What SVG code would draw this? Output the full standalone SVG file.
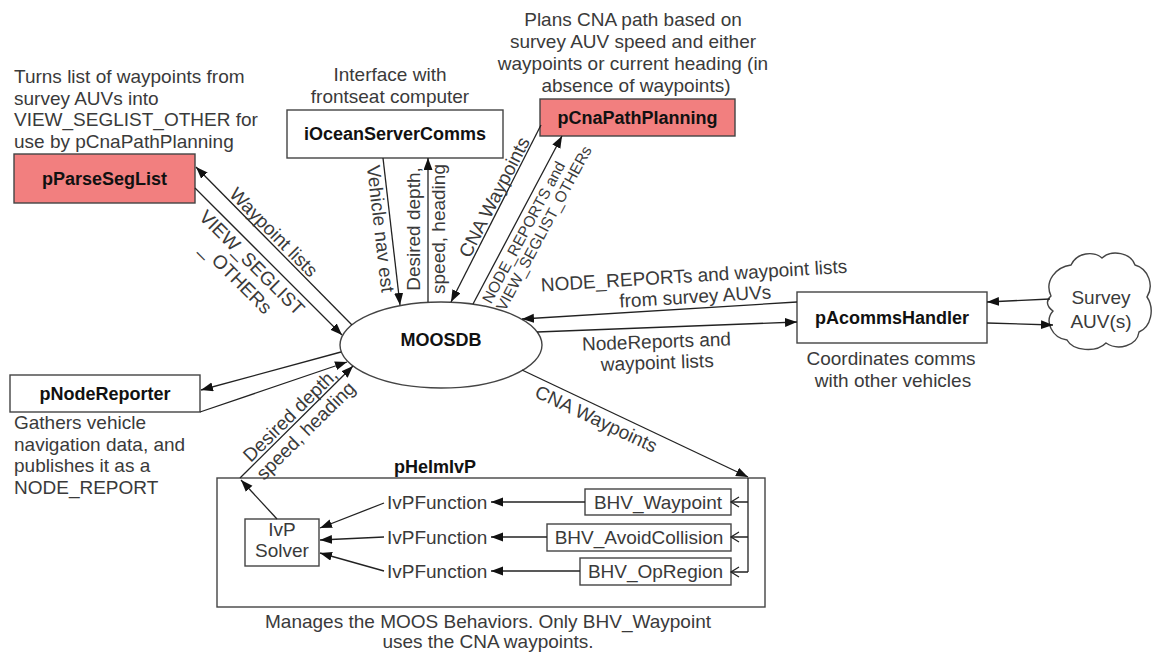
<svg xmlns="http://www.w3.org/2000/svg" width="1157" height="653" viewBox="0 0 1157 653">
  <defs>
    <style>
      .box { fill: #ffffff; stroke: #444444; stroke-width: 1.4; }
      .hot { fill: #f27f7f; }
      .frame { fill: none; stroke: #444444; stroke-width: 1.4; }
      .name { font-family: "Liberation Sans", Arial, sans-serif; font-size: 18px; font-weight: bold; fill: #111111; text-anchor: middle; }
      .note { font-family: "Liberation Sans", Arial, sans-serif; font-size: 19px; fill: #3a3a3a; }
      .small { font-size: 15.5px; }
      .mid { text-anchor: middle; }
      .wire { stroke: #222222; stroke-width: 1.3; fill: none; }
      .arr { marker-end: url(#head); }
    </style>
    <marker id="head" markerUnits="userSpaceOnUse" markerWidth="13" markerHeight="10" refX="12" refY="4.5" orient="auto">
      <path d="M0,0 L12,4.5 L0,9 Z" fill="#111111"/>
    </marker>
  </defs>
  <rect width="1157" height="653" fill="#ffffff"/>

  <!-- pParseSegList -->
  <g id="pParseSegList">
    <text class="note" x="14" y="83">Turns list of waypoints from</text>
    <text class="note" x="14" y="105">survey AUVs into</text>
    <text class="note" x="14" y="126">VIEW_SEGLIST_OTHER for</text>
    <text class="note" x="14" y="148">use by pCnaPathPlanning</text>
    <rect class="box hot" x="14" y="154" width="181" height="49"/>
    <text class="name" x="104.5" y="185">pParseSegList</text>
  </g>

  <!-- iOceanServerComms -->
  <g id="iOceanServerComms">
    <text class="note mid" x="390" y="81">Interface with</text>
    <text class="note mid" x="390" y="103">frontseat computer</text>
    <rect class="box" x="287" y="110" width="216" height="48"/>
    <text class="name" x="395" y="140">iOceanServerComms</text>
  </g>

  <!-- pCnaPathPlanning -->
  <g id="pCnaPathPlanning">
    <text class="note mid" x="633" y="26">Plans CNA path based on</text>
    <text class="note mid" x="633" y="48">survey AUV speed and either</text>
    <text class="note mid" x="633" y="70">waypoints or current heading (in</text>
    <text class="note mid" x="636" y="92">absence of waypoints)</text>
    <rect class="box hot" x="540" y="99" width="195" height="37"/>
    <text class="name" x="637.5" y="124">pCnaPathPlanning</text>
  </g>

  <!-- MOOSDB -->
  <g id="MOOSDB">
    <ellipse class="box" cx="441" cy="345" rx="101" ry="43"/>
    <text class="name" x="441" y="346">MOOSDB</text>
  </g>

  <!-- pAcommsHandler -->
  <g id="pAcommsHandler">
    <rect class="box" x="797" y="292" width="190" height="51"/>
    <text class="name" x="892" y="324">pAcommsHandler</text>
    <text class="note mid" x="891" y="365">Coordinates comms</text>
    <text class="note mid" x="893" y="387">with other vehicles</text>
  </g>

  <!-- Survey AUV(s) -->
  <g id="SurveyAUVs">
    <path class="box" d="M1051,296 C1044,281 1056,267 1071,265 C1077,252 1094,251 1102,258 C1112,249 1131,253 1135,265 C1149,269 1154,286 1147,297 C1155,309 1151,327 1139,332 C1137,346 1118,351 1106,343 C1096,353 1073,351 1067,340 C1052,338 1044,321 1053,311 C1046,306 1046,300 1051,296 Z"/>
    <text class="note mid" x="1101" y="304">Survey</text>
    <text class="note mid" x="1101" y="328">AUV(s)</text>
  </g>

  <!-- pNodeReporter -->
  <g id="pNodeReporter">
    <rect class="box" x="10" y="375" width="190" height="37"/>
    <text class="name" x="105" y="400">pNodeReporter</text>
    <text class="note" x="14" y="429">Gathers vehicle</text>
    <text class="note" x="14" y="451">navigation data, and</text>
    <text class="note" x="14" y="472">publishes it as a</text>
    <text class="note" x="14" y="494">NODE_REPORT</text>
  </g>

  <!-- pHelmIvP and its parts -->
  <g id="pHelmIvP">
    <text class="name" x="435" y="473">pHelmIvP</text>
    <rect class="frame" x="217" y="478" width="548" height="129"/>
    <text class="note mid" x="488" y="628">Manages the MOOS Behaviors. Only BHV_Waypoint</text>
    <text class="note mid" x="488" y="648">uses the CNA waypoints.</text>
  </g>
  <g id="IvPSolver">
    <rect class="box" x="245" y="519" width="74" height="47"/>
    <text class="note mid" x="282" y="536">IvP</text>
    <text class="note mid" x="282" y="557">Solver</text>
  </g>
  <g id="IvPFunctions">
    <text class="note" x="387" y="509">IvPFunction</text>
    <text class="note" x="387" y="544">IvPFunction</text>
    <text class="note" x="387" y="578">IvPFunction</text>
  </g>
  <g id="BHV_Waypoint">
    <rect class="box" x="585" y="489" width="146" height="26"/>
    <text class="note mid" x="658" y="509">BHV_Waypoint</text>
  </g>
  <g id="BHV_AvoidCollision">
    <rect class="box" x="547" y="524" width="184" height="27"/>
    <text class="note mid" x="639" y="544">BHV_AvoidCollision</text>
  </g>
  <g id="BHV_OpRegion">
    <rect class="box" x="580" y="558" width="151" height="27"/>
    <text class="note mid" x="655.5" y="578">BHV_OpRegion</text>
  </g>

  <!-- connectors -->
  <g id="connectors">
    <!-- pParseSegList <-> MOOSDB -->
    <line class="wire arr" x1="352" y1="325" x2="196" y2="167"/>
    <line class="wire arr" x1="195" y1="188" x2="342" y2="335"/>
    <!-- iOceanServerComms <-> MOOSDB -->
    <line class="wire arr" x1="383" y1="158" x2="400" y2="305"/>
    <line class="wire arr" x1="428" y1="302" x2="428" y2="158"/>
    <!-- pCnaPathPlanning <-> MOOSDB -->
    <line class="wire arr" x1="541" y1="125" x2="451" y2="302"/>
    <line class="wire arr" x1="473" y1="304" x2="562" y2="136"/>
    <!-- pAcommsHandler <-> MOOSDB -->
    <line class="wire arr" x1="797" y1="302" x2="522" y2="319"/>
    <line class="wire arr" x1="537" y1="332" x2="797" y2="322"/>
    <!-- Survey AUV(s) <-> pAcommsHandler -->
    <line class="wire arr" x1="1050" y1="299" x2="987" y2="302"/>
    <line class="wire arr" x1="987" y1="323" x2="1053" y2="325"/>
    <!-- pNodeReporter <-> MOOSDB -->
    <line class="wire arr" x1="341" y1="352" x2="201" y2="390"/>
    <line class="wire arr" x1="200" y1="412" x2="347" y2="362"/>
    <!-- pHelmIvP -> MOOSDB -->
    <line class="wire arr" x1="277" y1="519" x2="241" y2="480"/>
    <line class="wire arr" x1="240" y1="478" x2="353" y2="366"/>
    <!-- MOOSDB -> pHelmIvP behaviors -->
    <line class="wire arr" x1="522" y1="370" x2="748" y2="477"/>
    <path class="wire" d="M748,478 V572 M748,502 H731 M748,537 H731 M748,572 H731"/>
    <path class="wire" d="M739,497 L731,502 L739,507 M739,532 L731,537 L739,542 M739,567 L731,572 L739,577"/>
    <!-- behaviors -> IvP functions -> solver -->
    <line class="wire arr" x1="585" y1="502" x2="491" y2="502"/>
    <line class="wire arr" x1="547" y1="537" x2="491" y2="537"/>
    <line class="wire arr" x1="580" y1="571" x2="491" y2="571"/>
    <line class="wire arr" x1="384" y1="503" x2="320" y2="528"/>
    <line class="wire arr" x1="384" y1="537" x2="320" y2="540"/>
    <line class="wire arr" x1="384" y1="571" x2="320" y2="553"/>

    <!-- connector labels -->
    <g transform="translate(196,167) rotate(45.4)">
      <text class="note mid" x="101" y="-3">Waypoint lists</text>
    </g>
    <g transform="translate(195,188) rotate(45)">
      <text class="note mid" x="93" y="19">VIEW_SEGLIST</text>
      <text class="note mid" x="93" y="41">_ OTHERs</text>
    </g>
    <g transform="translate(383,158) rotate(83.4)">
      <text class="note mid" x="70" y="17">Vehicle nav est</text>
    </g>
    <g transform="translate(428,229) rotate(-90)">
      <text class="note mid" x="0" y="-8">Desired depth,</text>
      <text class="note mid" x="0" y="17">speed, heading</text>
    </g>
    <g transform="translate(451,302) rotate(-62.8)">
      <text class="note mid" x="113" y="-3">CNA Waypoints</text>
    </g>
    <g transform="translate(473,304) rotate(-61.8)">
      <text class="note small" x="8" y="16">NODE_REPORTS and</text>
      <text class="note small" x="8" y="32">VIEW_SEGLIST_OTHERs</text>
    </g>
    <g transform="rotate(-3.5 695 292)">
      <text class="note mid" x="695" y="282">NODE_REPORTs and waypoint lists</text>
      <text class="note mid" x="695" y="303">from survey AUVs</text>
    </g>
    <g transform="rotate(-2 657 357)">
      <text class="note mid" x="657" y="348">NodeReports and</text>
      <text class="note mid" x="657" y="369">waypoint lists</text>
    </g>
    <g transform="translate(522,370) rotate(25.3)">
      <text class="note mid" x="88" y="19">CNA Waypoints</text>
    </g>
    <g transform="translate(240,478) rotate(-44.7)">
      <text class="note mid" x="80" y="-3">Desired depth,</text>
      <text class="note mid" x="80" y="19">speed, heading</text>
    </g>
  </g>
</svg>
